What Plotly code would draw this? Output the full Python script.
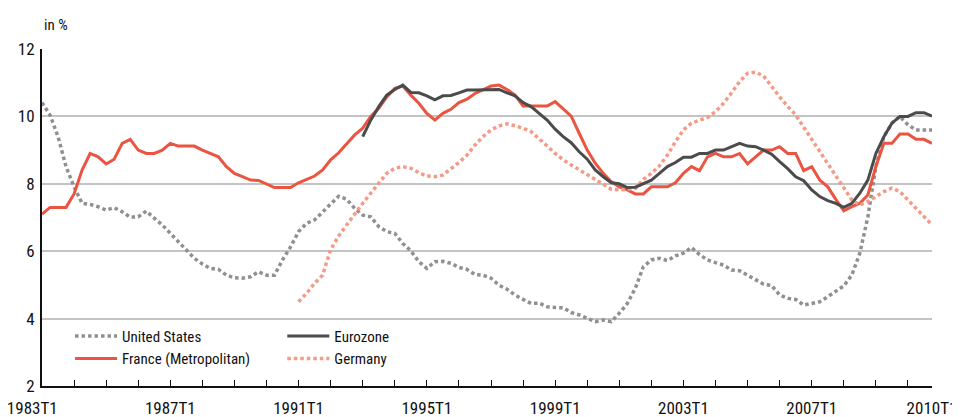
import plotly.graph_objects as go

# Quarterly index from 1983T1 (0) to 2010T4 (111)
quarters = list(range(112))

france = [7.10, 7.30, 7.30, 7.30, 7.70, 8.41, 8.90, 8.80, 8.59, 8.73, 9.20, 9.32, 9.00, 8.90, 8.90, 9.00,
          9.20, 9.12, 9.12, 9.12, 9.00, 8.90, 8.80, 8.51, 8.31, 8.21, 8.11, 8.10, 7.99, 7.89, 7.89, 7.89,
          8.03, 8.13, 8.23, 8.41, 8.71, 8.92, 9.20, 9.45, 9.65, 10.00, 10.24, 10.58, 10.83, 10.90, 10.63, 10.39,
          10.09, 9.89, 10.09, 10.21, 10.41, 10.51, 10.68, 10.80, 10.90, 10.93, 10.80, 10.63, 10.31, 10.31, 10.31, 10.31,
          10.44, 10.21, 10.01, 9.50, 9.00, 8.61, 8.31, 8.06, 7.91, 7.82, 7.70, 7.70, 7.91, 7.91, 7.91, 8.03,
          8.31, 8.51, 8.39, 8.80, 8.90, 8.80, 8.80, 8.90, 8.59, 8.80, 9.00, 9.00, 9.10, 8.90, 8.90, 8.39,
          8.51, 8.11, 7.91, 7.54, 7.20, 7.32, 7.42, 7.67, 8.51, 9.20, 9.20, 9.48, 9.48, 9.32, 9.32, 9.20]

eurozone = [None] * 40 + [
          9.40, 9.89, 10.29, 10.63, 10.80, 10.93, 10.71, 10.70,
          10.61, 10.49, 10.61, 10.62, 10.70, 10.78, 10.78, 10.78, 10.80, 10.80, 10.70, 10.61, 10.41, 10.29, 10.09, 9.89,
          9.62, 9.40, 9.22, 8.95, 8.73, 8.41, 8.21, 8.03, 8.00, 7.89, 7.90, 8.01, 8.11, 8.31, 8.51, 8.63,
          8.79, 8.79, 8.90, 8.90, 9.00, 9.00, 9.10, 9.20, 9.12, 9.10, 9.00, 8.88, 8.66, 8.45, 8.21, 8.09,
          7.82, 7.62, 7.50, 7.42, 7.30, 7.42, 7.72, 8.11, 8.90, 9.40, 9.80, 10.00, 10.00, 10.11, 10.11, 10.01]

germany = [None] * 32 + [
          4.50, 4.75, 5.05, 5.29, 6.05, 6.45, 6.78, 7.12, 7.42, 7.72, 8.01, 8.31, 8.46, 8.51, 8.46, 8.33,
          8.23, 8.21, 8.26, 8.43, 8.63, 8.85, 9.15, 9.40, 9.60, 9.72, 9.78, 9.72, 9.65, 9.55, 9.35, 9.12,
          8.90, 8.71, 8.56, 8.41, 8.26, 8.11, 7.96, 7.84, 7.82, 7.84, 7.86, 8.13, 8.31, 8.53, 8.85, 9.25,
          9.60, 9.80, 9.89, 9.97, 10.14, 10.39, 10.70, 11.03, 11.28, 11.31, 11.20, 10.88, 10.58, 10.30, 10.04, 9.68,
          9.32, 8.95, 8.59, 8.21, 7.84, 7.52, 7.37, 7.47, 7.62, 7.77, 7.87, 7.77, 7.52, 7.27, 7.02, 6.78]

united_states = [10.41, 10.04, 9.40, 8.51, 7.91, 7.42, 7.39, 7.32, 7.22, 7.29, 7.17, 7.01, 7.02, 7.19, 6.98, 6.78,
          6.53, 6.28, 6.05, 5.79, 5.62, 5.49, 5.46, 5.29, 5.21, 5.20, 5.24, 5.39, 5.29, 5.29, 5.74, 6.13,
          6.58, 6.83, 6.93, 7.17, 7.42, 7.63, 7.54, 7.27, 7.07, 7.02, 6.73, 6.58, 6.53, 6.23, 6.01, 5.69,
          5.49, 5.69, 5.70, 5.64, 5.52, 5.46, 5.31, 5.29, 5.20, 4.99, 4.87, 4.70, 4.57, 4.45, 4.46, 4.35,
          4.33, 4.32, 4.18, 4.11, 4.01, 3.91, 3.96, 3.91, 4.16, 4.45, 4.90, 5.54, 5.74, 5.79, 5.72, 5.86,
          5.94, 6.11, 5.90, 5.74, 5.66, 5.59, 5.44, 5.42, 5.29, 5.15, 5.02, 4.98, 4.70, 4.60, 4.57, 4.40,
          4.45, 4.50, 4.65, 4.80, 4.97, 5.29, 5.94, 7.02, 8.51, 9.40, 9.80, 10.00, 9.75, 9.60, 9.60, 9.60]

x_tick_vals = [0, 16, 32, 48, 64, 80, 96, 111]
x_tick_text = ["1983T1" + "\u00a0" * 5, "1987T1", "1991T1", "1995T1", "1999T1", "2003T1", "2007T1", "2010T1"]
y_tick_vals = [2, 4, 6, 8, 10, 12]

FONT = "Roboto Condensed, Liberation Sans Narrow, Arial Narrow, DejaVu Sans Condensed, sans-serif"
RED = "#EB5441"
DARK = "#4B4B4B"
GREY = "#8F8F94"
SALMON = "#F49A86"

fig = go.Figure()
fig.add_trace(go.Scatter(x=quarters, y=united_states, name="United States", mode="lines",
                         line=dict(color=GREY, width=3.5, dash="3.5px,3px"), legend="legend"))
fig.add_trace(go.Scatter(x=quarters, y=france, name="France (Metropolitan)", mode="lines",
                         line=dict(color=RED, width=3), legend="legend"))
fig.add_trace(go.Scatter(x=quarters, y=germany, name="Germany", mode="lines",
                         line=dict(color=SALMON, width=3.5, dash="3.5px,3px"), legend="legend2"))
fig.add_trace(go.Scatter(x=quarters, y=eurozone, name="Eurozone", mode="lines",
                         line=dict(color=DARK, width=3), legend="legend2"))

# The page body adds an 8px offset; margins compensate so the plot sits at x 42-932, y 49-386
fig.update_layout(
    template="none",
    width=960, height=417,
    margin=dict(l=34, r=36, t=41, b=39, autoexpand=False),
    paper_bgcolor="white", plot_bgcolor="white",
    font=dict(family=FONT, size=15, color="#111111"),
    showlegend=True,
    legend=dict(x=0.0315, y=0.1965, xanchor="left", yanchor="top", bgcolor="rgba(0,0,0,0)",
                traceorder="normal", font=dict(size=15), itemwidth=42, tracegroupgap=0),
    legend2=dict(x=0.27, y=0.1965, xanchor="left", yanchor="top", bgcolor="rgba(0,0,0,0)",
                 traceorder="reversed", font=dict(size=15), itemwidth=42, tracegroupgap=0),
    annotations=[dict(text="in %", xref="paper", yref="paper", x=0, y=1.07, xanchor="left",
                      yanchor="middle", showarrow=False, font=dict(size=15))],
)

fig.update_xaxes(
    range=[0, 111], showgrid=False, zeroline=False, automargin=False,
    tickvals=x_tick_vals, ticktext=x_tick_text, ticks="inside", ticklen=6, tickwidth=1,
    tickcolor="#111111", tickfont=dict(size=17), ticklabeloverflow="allow",
    minor=dict(dtick=4, tick0=0, ticks="inside", ticklen=6, tickwidth=1, tickcolor="#111111"),
    showline=True, linecolor="#111111", linewidth=2, ticklabelstandoff=6,
)
fig.update_yaxes(
    range=[2, 12], tickvals=y_tick_vals, showgrid=True, gridcolor="#C4C4C4", gridwidth=2,
    zeroline=False, showline=True, linecolor="#111111", linewidth=2, ticks="", automargin=False,
    tickfont=dict(size=17), ticklabelstandoff=2,
)

fig.write_html("out.html")
